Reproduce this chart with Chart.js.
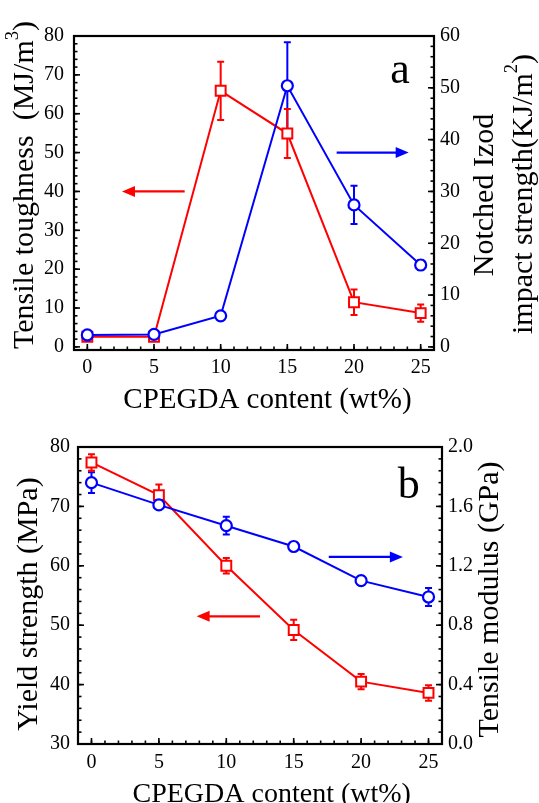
<!DOCTYPE html>
<html><head><meta charset="utf-8">
<script src="https://cdn.jsdelivr.net/npm/chart.js@4"></script>
<style>
html,body{margin:0;padding:0;background:#fff;width:539px;height:803px;overflow:hidden;position:relative}
canvas{position:absolute;left:0}
#ca{top:0px}
#cb{top:400px}
</style></head><body>
<canvas id="ca" width="539" height="415"></canvas>
<canvas id="cb" width="539" height="403"></canvas>
<script>
// ---------- data ----------
const content = [0, 5, 10, 15, 20, 25];
const xTicks = [0, 5, 10, 15, 20, 25];
// panel a
const toughness    = [2.6, 2.6, 65.9, 54.9, 11.5, 8.7];
const toughnessErr = [0.8, 0.6, 7.5, 6.3, 3.3, 2.2];
const izod         = [2.3, 2.4, 6.0, 50.4, 27.4, 15.8];
const izodErr      = [0.8, 0.6, 0.5, 8.4, 3.7, 0.9];
const toughnessTicks = [0, 10, 20, 30, 40, 50, 60, 70, 80];
const izodTicks      = [0, 10, 20, 30, 40, 50, 60];
// panel b
const yieldStrength = [77.4, 71.9, 60.0, 49.2, 40.5, 38.6];
const yieldErr      = [1.4, 1.8, 1.3, 1.7, 1.3, 1.3];
const modulus       = [1.76, 1.61, 1.47, 1.33, 1.10, 0.99];
const modulusErr    = [0.07, 0.02, 0.06, 0.03, 0.03, 0.06];
const yieldTicks   = [30, 40, 50, 60, 70, 80];
const modulusTicks = [0.0, 0.4, 0.8, 1.2, 1.6, 2.0];

const RED = '#ff0000', BLUE = '#0000ff';
const FONT = "'Liberation Serif', 'Times New Roman', serif";

// ---------- helpers ----------
function minorVals(min, max, step) {
  const out = [];
  for (let v = Math.ceil(min / step - 1e-9) * step; v <= max + 1e-9; v += step) {
    const r = +v.toFixed(6);
    if (r > min + 1e-9 && r < max - 1e-9) out.push(r);
  }
  return out;
}

function drawRich(ctx, segs, x, y, size, rotate) {
  ctx.save();
  ctx.translate(x, y);
  if (rotate) ctx.rotate(-Math.PI / 2);
  ctx.fillStyle = '#000';
  ctx.textBaseline = 'alphabetic';
  ctx.textAlign = 'left';
  let total = 0;
  const parts = segs.map(s => {
    const fs = s.sup ? size * 0.62 : size;
    ctx.font = fs + 'px ' + FONT;
    const w = ctx.measureText(s.t).width;
    total += w;
    return { t: s.t, fs, w, sup: s.sup };
  });
  let u = -total / 2;
  parts.forEach(p => {
    ctx.font = p.fs + 'px ' + FONT;
    ctx.fillText(p.t, u, p.sup ? -size * 0.5 : 0);
    u += p.w;
  });
  ctx.restore();
}

function arrow(ctx, x1, y1, x2, y2, color) {
  const dir = Math.sign(x2 - x1);
  const L = 13, H = 5.5;
  ctx.save();
  ctx.strokeStyle = color; ctx.fillStyle = color; ctx.lineWidth = 2.2;
  ctx.beginPath(); ctx.moveTo(x1, y1); ctx.lineTo(x2 - dir * L * 0.8, y2); ctx.stroke();
  ctx.beginPath();
  ctx.moveTo(x2, y2);
  ctx.lineTo(x2 - dir * L, y2 - H);
  ctx.lineTo(x2 - dir * L, y2 + H);
  ctx.closePath(); ctx.fill();
  ctx.restore();
}

const errorBarPlugin = {
  id: 'errorBars',
  beforeDatasetsDraw(chart) {
    const ctx = chart.ctx;
    const xs = chart.scales.x;
    chart.data.datasets.forEach(ds => {
      if (!ds.errors) return;
      const ys = chart.scales[ds.yAxisID];
      ctx.save();
      ctx.strokeStyle = ds.borderColor; ctx.lineWidth = 2;
      ds.data.forEach((p, i) => {
        const e = ds.errors[i];
        const px = xs.getPixelForValue(p.x);
        const yt = ys.getPixelForValue(p.y + e);
        const yb = ys.getPixelForValue(p.y - e);
        ctx.beginPath();
        ctx.moveTo(px, yt); ctx.lineTo(px, yb);
        ctx.moveTo(px - 3.5, yt); ctx.lineTo(px + 3.5, yt);
        ctx.moveTo(px - 3.5, yb); ctx.lineTo(px + 3.5, yb);
        ctx.stroke();
      });
      ctx.restore();
    });
  }
};

const framePlugin = {
  id: 'frame',
  afterDraw(chart, args, opts) {
    const { ctx, chartArea: a, scales } = chart;
    ctx.save();
    ctx.strokeStyle = '#000';
    ctx.lineWidth = 1.6;
    const tick = (scale, vals, len, side) => {
      vals.forEach(v => {
        const p = scale.getPixelForValue(v);
        ctx.beginPath();
        if (side === 'bottom') { ctx.moveTo(p, a.bottom); ctx.lineTo(p, a.bottom - len); }
        else if (side === 'left') { ctx.moveTo(a.left, p); ctx.lineTo(a.left + len, p); }
        else { ctx.moveTo(a.right, p); ctx.lineTo(a.right - len, p); }
        ctx.stroke();
      });
    };
    const xs = scales.x, yl = scales.yL, yr = scales.yR;
    tick(xs, opts.xMajor, 6, 'bottom');
    tick(xs, minorVals(xs.min, xs.max, opts.xMinor), 3.5, 'bottom');
    tick(yl, opts.lMajor, 6, 'left');
    tick(yl, minorVals(yl.min, yl.max, opts.lMinor), 3.5, 'left');
    tick(yr, opts.rMajor, 6, 'right');
    tick(yr, minorVals(yr.min, yr.max, opts.rMinor), 3.5, 'right');
    ctx.lineWidth = 2.2;
    ctx.strokeRect(a.left, a.top, a.right - a.left, a.bottom - a.top);
    ctx.restore();
    (opts.arrows || []).forEach(ar => {
      const ys = scales[ar.axis];
      const y = ys.getPixelForValue(ar.y);
      arrow(ctx, xs.getPixelForValue(ar.from), y, xs.getPixelForValue(ar.to), y, ar.color);
    });
    (opts.titles || []).forEach(t => drawRich(ctx, t.segs, t.x, t.y, t.size, t.rotate));
  }
};

function makeChart(id, cfg) {
  const tickFont = { family: FONT, size: 20 };
  return new Chart(document.getElementById(id), {
    type: 'line',
    data: {
      datasets: [
        {
          data: content.map((x, i) => ({ x, y: cfg.blue[i] })), errors: cfg.blueErr,
          yAxisID: 'yR', borderColor: BLUE, backgroundColor: '#fff', borderWidth: 2,
          pointStyle: 'circle', pointRadius: 5.5, pointBorderWidth: 2.2,
          pointBackgroundColor: '#fff', pointBorderColor: BLUE, clip: false
        },
        {
          data: content.map((x, i) => ({ x, y: cfg.red[i] })), errors: cfg.redErr,
          yAxisID: 'yL', borderColor: RED, backgroundColor: '#fff', borderWidth: 2,
          pointStyle: 'rect', pointRadius: 7, pointBorderWidth: 2,
          pointBackgroundColor: '#fff', pointBorderColor: RED, clip: false
        }
      ]
    },
    options: {
      responsive: false, animation: false, devicePixelRatio: 1,
      layout: { padding: { top: cfg.top, left: 0, right: 0, bottom: 0 } },
      plugins: {
        legend: { display: false }, tooltip: { enabled: false },
        frame: cfg.frame
      },
      scales: {
        x: {
          type: 'linear', min: -1, max: 26,
          afterBuildTicks: s => { s.ticks = xTicks.map(v => ({ value: v })); },
          afterFit: s => { s.height = cfg.xH; },
          grid: { display: false, drawTicks: false }, border: { display: false },
          ticks: { font: tickFont, color: '#000', padding: cfg.xPad, maxRotation: 0, autoSkip: false }
        },
        yL: {
          type: 'linear', position: 'left', min: cfg.lMin, max: cfg.lMax,
          afterBuildTicks: s => { s.ticks = cfg.lTicks.map(v => ({ value: v })); },
          afterFit: s => { s.width = cfg.lW; },
          grid: { display: false, drawTicks: false }, border: { display: false },
          ticks: { font: tickFont, color: '#000', padding: cfg.lPad, autoSkip: false }
        },
        yR: {
          type: 'linear', position: 'right', min: cfg.rMin, max: cfg.rMax,
          afterBuildTicks: s => { s.ticks = cfg.rTicks.map(v => ({ value: v })); },
          afterFit: s => { s.width = cfg.rW; },
          grid: { display: false, drawTicks: false }, border: { display: false },
          ticks: { font: tickFont, color: '#000', padding: 6, autoSkip: false, callback: cfg.rFmt }
        }
      }
    },
    plugins: [errorBarPlugin, framePlugin]
  });
}

// ---------- panel a ----------
makeChart('ca', {
  red: toughness, redErr: toughnessErr, blue: izod, blueErr: izodErr,
  top: 36, xH: 65, xPad: 6, lW: 74, rW: 105, lPad: 10,
  lMin: -0.8, lMax: 80, rMin: -0.6, rMax: 60,
  lTicks: toughnessTicks, rTicks: izodTicks, rFmt: v => String(v),
  frame: {
    xMajor: xTicks, xMinor: 1, lMajor: toughnessTicks, lMinor: 2, rMajor: izodTicks, rMinor: 2,
    arrows: [
      { axis: 'yL', y: 40, from: 7.3, to: 2.6, color: RED },
      { axis: 'yR', y: 37.5, from: 18.7, to: 24.1, color: BLUE }
    ],
    titles: [
      { segs: [{ t: 'Tensile toughness  (MJ/m' }, { t: '3', sup: true }, { t: ')' }], x: 33, y: 185, size: 30, rotate: true },
      { segs: [{ t: 'Notched Izod' }], x: 493, y: 195, size: 30, rotate: true },
      { segs: [{ t: 'impact strength(KJ/m' }, { t: '2', sup: true }, { t: ')' }], x: 532, y: 194, size: 30, rotate: true },
      { segs: [{ t: 'CPEGDA content (wt%)' }], x: 267.5, y: 408, size: 29, rotate: false },
      { segs: [{ t: 'a' }], x: 400, y: 83, size: 44, rotate: false }
    ]
  }
});

// ---------- panel b ----------
makeChart('cb', {
  red: yieldStrength, redErr: yieldErr, blue: modulus, blueErr: modulusErr,
  top: 47, xH: 59, xPad: 7, lW: 78, rW: 97, lPad: 8,
  lMin: 30, lMax: 80, rMin: 0, rMax: 2.0,
  lTicks: yieldTicks, rTicks: modulusTicks, rFmt: v => Number(v).toFixed(1),
  frame: {
    xMajor: xTicks, xMinor: 1, lMajor: yieldTicks, lMinor: 2, rMajor: modulusTicks, rMinor: 0.08,
    arrows: [
      { axis: 'yL', y: 51.5, from: 12.5, to: 7.8, color: RED },
      { axis: 'yR', y: 1.26, from: 17.6, to: 23.1, color: BLUE }
    ],
    titles: [
      { segs: [{ t: 'Yield strength (MPa)' }], x: 37, y: 204, size: 30, rotate: true },
      { segs: [{ t: 'Tensile modulus (GPa)' }], x: 498, y: 199.5, size: 30, rotate: true },
      { segs: [{ t: 'CPEGDA content (wt%)' }], x: 271.7, y: 402, size: 28, rotate: false },
      { segs: [{ t: 'b' }], x: 408.7, y: 98, size: 44, rotate: false }
    ]
  }
});
</script>
</body></html>
